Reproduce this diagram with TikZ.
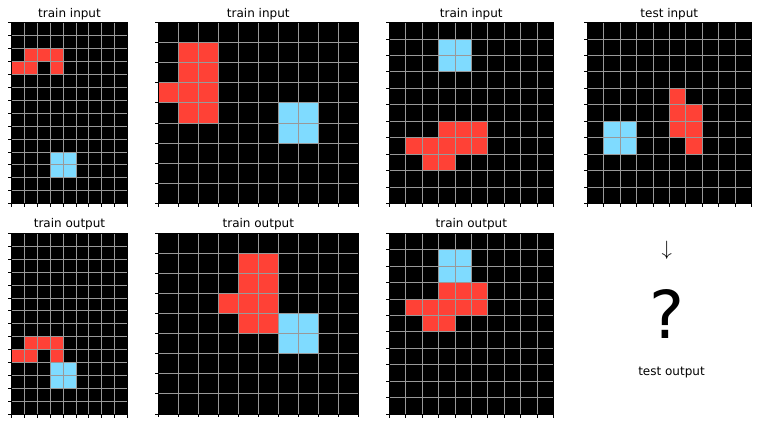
\documentclass[tikz,border=0pt]{standalone}
\usepackage{fontspec}
\setmainfont{DejaVu Sans}
\definecolor{ared}{HTML}{FF4136}
\definecolor{ablue}{HTML}{7FDBFF}
\definecolor{agrid}{HTML}{999999}
\tikzset{
  gridline/.style={agrid,line width=0.8bp},
  spine/.style={black,line width=0.8bp},
  tickline/.style={black,line width=0.8bp},
  title/.style={font=\fontsize{12bp}{14bp}\selectfont, anchor=base, inner sep=0pt}
}
% #1 x0, #2 y0, #3 cell w, #4 cell h, #5 ncols, #6 nrows, #7 cells, #8 name, #9 title
\newcommand\arcpanel[9]{%
 \begin{scope}[shift={(#1,#2)}]
  \fill[black] (0,0) rectangle ({#3*#5},{#4*#6});
  \foreach \cc/\ci/\cj in {#7} {\fill[\cc] ({\ci*#3},{\cj*#4}) rectangle ({(\ci+1)*#3},{(\cj+1)*#4});}
  \foreach \k in {0,...,#5} {\draw[gridline] ({\k*#3},0) -- ({\k*#3},{#4*#6});
     \draw[tickline] ({\k*#3},{#4*#6}) -- ++(0,3.5);}
  \foreach \k in {0,...,#6} {\draw[gridline] (0,{\k*#4}) -- ({#3*#5},{\k*#4});
     \draw[tickline] (0,{\k*#4}) -- ++(-3.5,0);}
  \draw[spine] (0,0) rectangle ({#3*#5},{#4*#6});
  \node[title] (#8) at ({#3*#5/2},-5.5) {#9};
 \end{scope}}
\begin{document}
\begin{tikzpicture}[x=1bp,y=-1bp]
\useasboundingbox (0,0) rectangle (781,424);
% row 1
\arcpanel{11.3}{22.6}{12.93}{12.93}{9}{14}{ared/1/2,ared/2/2,ared/3/2,ared/0/3,ared/1/3,ared/3/3,ablue/3/10,ablue/4/10,ablue/3/11,ablue/4/11}{t1}{train input}
\arcpanel{158.3}{22.6}{20.0}{20.07}{10}{9}{ared/1/1,ared/2/1,ared/1/2,ared/2/2,ared/1/3,ared/2/3,ared/1/4,ared/2/4,ared/0/3,ablue/6/4,ablue/7/4,ablue/6/5,ablue/7/5}{t2}{train input}
\arcpanel{389.3}{22.6}{16.4}{16.43}{10}{11}{ablue/3/1,ablue/4/1,ablue/3/2,ablue/4/2,ared/3/6,ared/4/6,ared/5/6,ared/1/7,ared/2/7,ared/3/7,ared/4/7,ared/5/7,ared/2/8,ared/3/8}{t3}{train input}
\arcpanel{587.3}{22.6}{16.4}{16.43}{10}{11}{ablue/1/6,ablue/2/6,ablue/1/7,ablue/2/7,ared/5/4,ared/5/5,ared/5/6,ared/6/5,ared/6/6,ared/6/7}{t4}{test input}
% row 2
\arcpanel{11.3}{233.3}{12.93}{12.93}{9}{14}{ared/1/8,ared/2/8,ared/3/8,ared/0/9,ared/1/9,ared/3/9,ablue/3/10,ablue/4/10,ablue/3/11,ablue/4/11}{o1}{train output}
\arcpanel{158.3}{233.3}{20.0}{20.07}{10}{9}{ared/4/1,ared/5/1,ared/4/2,ared/5/2,ared/4/3,ared/5/3,ared/4/4,ared/5/4,ared/3/3,ablue/6/4,ablue/7/4,ablue/6/5,ablue/7/5}{o2}{train output}
\arcpanel{389.3}{233.3}{16.4}{16.43}{10}{11}{ablue/3/1,ablue/4/1,ablue/3/2,ablue/4/2,ared/3/3,ared/4/3,ared/5/3,ared/1/4,ared/2/4,ared/3/4,ared/4/4,ared/5/4,ared/2/5,ared/3/5}{o3}{train output}
% test output
\node[inner sep=0pt] (arrow) at (666.7,250) {\fontsize{22bp}{22bp}\selectfont$\downarrow$};
\node[anchor=base, inner sep=0pt] (qmark) at (666.7,338.3) {\fontsize{66bp}{66bp}\selectfont ?};
\node[title] (testout) at (671.5,375.2) {test output};
\end{tikzpicture}
\end{document}
